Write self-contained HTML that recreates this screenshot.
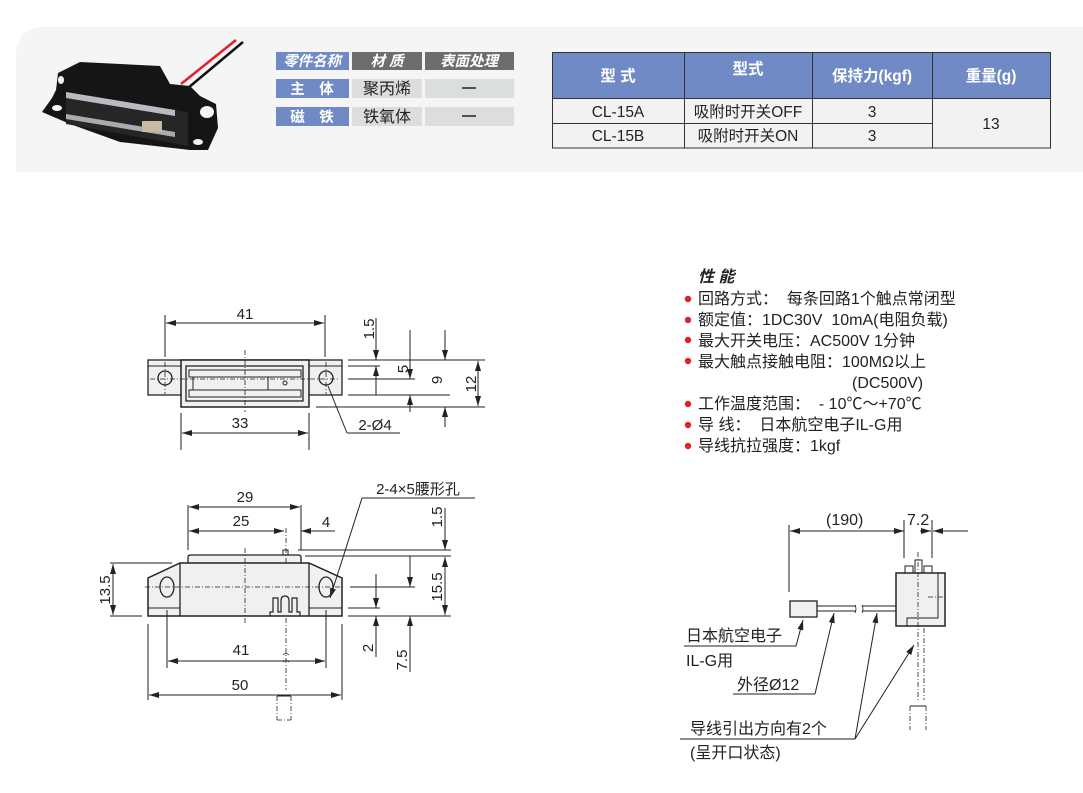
<!DOCTYPE html>
<html><head><meta charset="utf-8"><style>
body{margin:0;background:#fff;}
svg{display:block;font-family:"Liberation Sans","Noto Sans CJK SC",sans-serif;}
</style></head><body>
<svg width="1083" height="793" viewBox="0 0 1083 793" xmlns="http://www.w3.org/2000/svg">
<defs>
<marker id="a" viewBox="0 0 10 6" refX="10" refY="3" markerWidth="10" markerHeight="6" orient="auto-start-reverse" markerUnits="userSpaceOnUse"><path d="M0,0L10,3L0,6z" fill="#222"/></marker>
</defs>
<path d="M16,172 V57 Q16,27 46,27 H1083 V172 Z" fill="#f5f5f5"/>
<!-- photo -->
<g>
<line x1="181" y1="84" x2="236" y2="40" stroke="#e0202e" stroke-width="2.5"/>
<line x1="188" y1="88" x2="243" y2="42" stroke="#111" stroke-width="2.5"/>
<polygon points="58,73 80,62 160,66 170,84 190,86 200,96 216,104 218,128 208,150 190,150 120,142 70,124 42,112 52,98 56,90" fill="#151515"/>
<polygon points="66,92 188,112 188,146 66,124" fill="#262626"/>
<polygon points="66,92 175,110 175,116 66,98" fill="#b8bcc0"/>
<polygon points="66,114 175,132 175,137 66,119" fill="#a8acb0"/>
<rect x="142" y="121" width="20" height="11" fill="#c9b9a0"/>
<ellipse cx="61" cy="80" rx="3" ry="4" fill="#f5f5f5"/>
<ellipse cx="57" cy="108" rx="5" ry="3" fill="#f5f5f5"/>
<ellipse cx="207" cy="112" rx="7" ry="6" fill="#f5f5f5"/>
<ellipse cx="198" cy="142" rx="5" ry="3" fill="#f5f5f5"/>
</g>
<!-- left table -->
<g font-size="14.5" text-anchor="middle">
<rect x="276" y="52" width="73" height="18" fill="#6f8ac4"/><text x="312" y="66" fill="#fff" font-weight="bold" font-style="italic">零件名称</text>
<rect x="352" y="52" width="70" height="18" fill="#6d6d6d"/><text x="387" y="66" fill="#fff" font-weight="bold" font-style="italic">材 质</text>
<rect x="425" y="52" width="89" height="18" fill="#6d6d6d"/><text x="469" y="66" fill="#fff" font-weight="bold" font-style="italic">表面处理</text>
<rect x="276" y="79" width="73" height="19" fill="#6f8ac4"/><text x="312" y="94" fill="#fff" font-weight="bold">主　体</text>
<rect x="352" y="79" width="70" height="19" fill="#dcdddd"/><text x="387" y="94" fill="#222" font-size="16">聚丙烯</text>
<rect x="425" y="79" width="89" height="19" fill="#dcdddd"/><line x1="462" y1="88" x2="476" y2="88" stroke="#222" stroke-width="1.5"/>
<rect x="276" y="107" width="73" height="19" fill="#6f8ac4"/><text x="312" y="122" fill="#fff" font-weight="bold">磁　铁</text>
<rect x="352" y="107" width="70" height="19" fill="#dcdddd"/><text x="387" y="122" fill="#222" font-size="16">铁氧体</text>
<rect x="425" y="107" width="89" height="19" fill="#dcdddd"/><line x1="462" y1="116" x2="476" y2="116" stroke="#222" stroke-width="1.5"/>
</g>
<!-- right table -->
<g font-size="15.5" text-anchor="middle">
<rect x="552" y="52" width="499" height="46" fill="#6f8ac4"/>
<rect x="552" y="98" width="499" height="50" fill="#f2f2f2"/>
<g stroke="#333" stroke-width="1" fill="none">
<rect x="552.5" y="52.5" width="498" height="95.5"/>
<line x1="552" y1="98.5" x2="1051" y2="98.5"/>
<line x1="552" y1="123.5" x2="932" y2="123.5"/>
<line x1="684.5" y1="52" x2="684.5" y2="148"/>
<line x1="812.5" y1="52" x2="812.5" y2="148"/>
<line x1="932.5" y1="52" x2="932.5" y2="148"/>
</g>
<text x="618" y="81" fill="#fff" font-weight="bold">型 式</text>
<text x="748" y="74" fill="#fff" font-weight="bold">型式</text>
<text x="872" y="81" fill="#fff" font-weight="bold">保持力(kgf)</text>
<text x="991" y="81" fill="#fff" font-weight="bold">重量(g)</text>
<text x="618" y="117" fill="#222">CL-15A</text>
<text x="748" y="117" fill="#222">吸附时开关OFF</text>
<text x="872" y="117" fill="#222">3</text>
<text x="618" y="141" fill="#222">CL-15B</text>
<text x="748" y="141" fill="#222">吸附时开关ON</text>
<text x="872" y="141" fill="#222">3</text>
<text x="991" y="129" fill="#222">13</text>
</g>

<!-- top view drawing -->
<g stroke="#222" fill="none" stroke-width="1">
<rect x="148" y="360" width="194" height="35" fill="#f0f0f0" stroke-width="1.3"/>
<line x1="148" y1="366" x2="181" y2="366"/><line x1="309" y1="366" x2="342" y2="366"/>
<rect x="181" y="360" width="128" height="47" fill="#f0f0f0" stroke-width="1.5"/>
<rect x="186" y="366" width="117" height="35" stroke-width="1.3"/>
<rect x="189" y="370" width="112" height="7"/>
<rect x="189" y="390" width="112" height="7"/>
<line x1="193" y1="377" x2="193" y2="390"/><line x1="268" y1="377" x2="268" y2="390"/>
<circle cx="285" cy="383" r="2"/>
<circle cx="165" cy="378" r="7" stroke-width="1.3"/><circle cx="326" cy="378" r="7" stroke-width="1.3"/>
<g stroke-dasharray="5,2,1,2" stroke-width="0.8">
<line x1="245" y1="350" x2="245" y2="412"/><line x1="150" y1="379" x2="340" y2="379"/>
<line x1="165" y1="362" x2="165" y2="394"/><line x1="326" y1="362" x2="326" y2="394"/>
</g>
<line x1="165" y1="315" x2="165" y2="357"/><line x1="325" y1="315" x2="325" y2="357"/>
<line x1="166" y1="323" x2="324" y2="323" marker-start="url(#a)" marker-end="url(#a)"/>
<line x1="181" y1="413" x2="181" y2="450"/><line x1="309" y1="413" x2="309" y2="450"/>
<line x1="182" y1="433" x2="308" y2="433" marker-start="url(#a)" marker-end="url(#a)"/>
<line x1="328" y1="386" x2="347" y2="433"/><line x1="347" y1="433" x2="400" y2="433"/>
<line x1="348" y1="360" x2="485" y2="360"/><line x1="348" y1="366" x2="380" y2="366"/>
<line x1="348" y1="379" x2="415" y2="379"/><line x1="348" y1="395" x2="450" y2="395"/>
<line x1="316" y1="407" x2="485" y2="407"/>
<line x1="376" y1="318" x2="376" y2="360" marker-end="url(#a)"/>
<line x1="376" y1="366" x2="376" y2="395" marker-start="url(#a)"/>
<line x1="410" y1="330" x2="410" y2="379" marker-end="url(#a)"/>
<line x1="410" y1="395" x2="410" y2="412" marker-start="url(#a)"/>
<line x1="445" y1="330" x2="445" y2="360" marker-end="url(#a)"/>
<line x1="445" y1="407" x2="445" y2="427" marker-start="url(#a)"/>
<line x1="478" y1="361" x2="478" y2="406" marker-start="url(#a)" marker-end="url(#a)"/>
</g>
<g font-size="15" fill="#222" text-anchor="middle">
<text x="245" y="319">41</text><text x="240" y="428">33</text>
<text x="375" y="430">2-Ø4</text>
<text transform="translate(374,329) rotate(-90)">1.5</text>
<text transform="translate(408,369) rotate(-90)">5</text>
<text transform="translate(442,380) rotate(-90)">9</text>
<text transform="translate(476,384) rotate(-90)">12</text>
</g>

<!-- front view drawing -->
<g stroke="#222" fill="none" stroke-width="1">
<path d="M188,563 V557 Q188,555 191,555 H298 Q301,555 301,557 V563" fill="#f0f0f0" stroke-width="1.3"/>
<rect x="283" y="550" width="5" height="5"/>
<polygon points="148,616 148,578 180,563 309,563 342,578 342,616" fill="#f0f0f0" stroke-width="1.5"/>
<line x1="180" y1="563" x2="180" y2="616" stroke-width="1.3"/><line x1="309" y1="563" x2="309" y2="616" stroke-width="1.3"/>
<line x1="148" y1="608" x2="180" y2="608"/><line x1="309" y1="608" x2="342" y2="608"/>
<ellipse cx="167" cy="587" rx="7" ry="10" stroke-width="1.3"/><ellipse cx="326" cy="587" rx="7" ry="10" stroke-width="1.3"/>
<path d="M270,616 V612 H273 V598 H278 V612 H281 V601 Q281,596 285,596 Q289,596 289,601 V612 H292 V598 H297 V612 H300 V616" stroke-width="1.2"/>
<g stroke-dasharray="5,2,1,2" stroke-width="0.8">
<line x1="245" y1="548" x2="245" y2="625"/><line x1="286" y1="528" x2="286" y2="565"/>
<line x1="145" y1="587" x2="345" y2="587"/>
<line x1="286" y1="618" x2="286" y2="690"/>
<line x1="277" y1="696" x2="277" y2="720"/><line x1="291" y1="696" x2="291" y2="720"/><line x1="277" y1="720" x2="291" y2="720"/>
</g>
<line x1="277" y1="696" x2="291" y2="696"/>
<path d="M283,655 q3,-3 6,0 M283,662 q3,-3 6,0" stroke-width="0.8"/>
<line x1="188" y1="505" x2="188" y2="550"/><line x1="301" y1="505" x2="301" y2="550"/>
<line x1="189" y1="507" x2="300" y2="507" marker-start="url(#a)" marker-end="url(#a)"/>
<line x1="189" y1="531" x2="284" y2="531" marker-start="url(#a)" marker-end="url(#a)"/>
<line x1="301" y1="531" x2="335" y2="531" marker-start="url(#a)"/>
<line x1="110" y1="563" x2="172" y2="563"/><line x1="110" y1="616" x2="142" y2="616"/>
<line x1="113" y1="564" x2="113" y2="615" marker-start="url(#a)" marker-end="url(#a)"/>
<line x1="148" y1="624" x2="148" y2="700"/><line x1="342" y1="624" x2="342" y2="700"/>
<line x1="167" y1="610" x2="167" y2="668"/><line x1="326" y1="610" x2="326" y2="668"/>
<line x1="168" y1="661" x2="325" y2="661" marker-start="url(#a)" marker-end="url(#a)"/>
<line x1="149" y1="695" x2="341" y2="695" marker-start="url(#a)" marker-end="url(#a)"/>
<line x1="298" y1="550" x2="451" y2="550"/><line x1="305" y1="556" x2="451" y2="556"/>
<line x1="350" y1="587" x2="415" y2="587"/><line x1="348" y1="608" x2="380" y2="608"/>
<line x1="348" y1="616" x2="451" y2="616"/>
<line x1="445" y1="508" x2="445" y2="550" marker-end="url(#a)"/>
<line x1="445" y1="557" x2="445" y2="615" marker-start="url(#a)" marker-end="url(#a)"/>
<line x1="410" y1="556" x2="410" y2="587" marker-end="url(#a)"/>
<line x1="410" y1="616" x2="410" y2="672" marker-start="url(#a)"/>
<line x1="376" y1="574" x2="376" y2="608" marker-end="url(#a)"/>
<line x1="376" y1="616" x2="376" y2="657" marker-start="url(#a)"/>
<line x1="330" y1="598" x2="362" y2="498" marker-start="url(#a)"/><line x1="362" y1="498" x2="475" y2="498"/>
</g>
<g font-size="15" fill="#222" text-anchor="middle">
<text x="245" y="502">29</text><text x="241" y="526">25</text><text x="326" y="527">4</text>
<text x="418" y="494">2-4×5腰形孔</text>
<text transform="translate(110,590) rotate(-90)">13.5</text>
<text x="241" y="655">41</text><text x="240" y="690">50</text>
<text transform="translate(442,517) rotate(-90)">1.5</text>
<text transform="translate(442,587) rotate(-90)">15.5</text>
<text transform="translate(373,648) rotate(-90)">2</text>
<text transform="translate(407,660) rotate(-90)">7.5</text>
</g>

<!-- spec text -->
<g font-size="16" fill="#222">
<text x="698" y="282" font-weight="bold" font-style="italic">性 能</text>
<g fill="#e0202e"><circle cx="688" cy="299" r="3.2"/><circle cx="688" cy="320" r="3.2"/><circle cx="688" cy="340" r="3.2"/><circle cx="688" cy="361" r="3.2"/><circle cx="688" cy="404" r="3.2"/><circle cx="688" cy="425" r="3.2"/><circle cx="688" cy="446" r="3.2"/></g>
<text x="698" y="304" xml:space="preserve">回路方式：  每条回路1个触点常闭型</text>
<text x="698" y="325" xml:space="preserve">额定值：1DC30V  10mA(电阻负载)</text>
<text x="698" y="346">最大开关电压：AC500V 1分钟</text>
<text x="698" y="367">最大触点接触电阻：100MΩ以上</text>
<text x="852" y="388">(DC500V)</text>
<text x="698" y="409" xml:space="preserve">工作温度范围：  - 10℃～+70℃</text>
<text x="698" y="430" xml:space="preserve">导 线：  日本航空电子IL-G用</text>
<text x="698" y="451">导线抗拉强度：1kgf</text>
</g>

<!-- right drawing -->
<g stroke="#222" fill="none" stroke-width="1">
<line x1="789" y1="525" x2="789" y2="592"/>
<line x1="790" y1="531" x2="904" y2="531" marker-start="url(#a)" marker-end="url(#a)"/>
<line x1="904" y1="520" x2="904" y2="558"/><line x1="932" y1="520" x2="932" y2="558"/>
<line x1="920" y1="531" x2="931" y2="531" marker-end="url(#a)"/>
<line x1="933" y1="531" x2="968" y2="531" marker-start="url(#a)"/>
<rect x="896" y="573" width="49" height="53" fill="#f0f0f0" stroke-width="1.5"/>
<rect x="905" y="566" width="8" height="7"/><rect x="924" y="566" width="8" height="7"/>
<rect x="915" y="560" width="7" height="13"/>
<path d="M938,573 V618 H907 V626" />
<rect x="790" y="601" width="27" height="16" fill="#f0f0f0" stroke-width="1.3"/>
<path d="M817,606 H856 M817,611 H856 M862,606 H896 M862,611 H896"/>
<path d="M855,613 q2,-4 0,-8 M862,613 q2,-4 0,-8" stroke-width="0.8"/>
<g stroke-dasharray="5,2,1,2" stroke-width="0.8">
<line x1="918" y1="552" x2="918" y2="700"/><line x1="924" y1="628" x2="924" y2="700"/>
<line x1="928" y1="597" x2="947" y2="597"/>
<line x1="910" y1="706" x2="910" y2="730"/><line x1="926" y1="706" x2="926" y2="730"/>
</g>
<line x1="910" y1="706" x2="926" y2="706"/>
<line x1="684" y1="646" x2="796" y2="646"/><line x1="796" y1="646" x2="803" y2="620" marker-end="url(#a)"/>
<line x1="733" y1="694" x2="815" y2="694"/><line x1="815" y1="694" x2="834" y2="613" marker-end="url(#a)"/>
<line x1="680" y1="739" x2="855" y2="739"/>
<line x1="855" y1="739" x2="877" y2="613" marker-end="url(#a)"/>
<line x1="855" y1="739" x2="914" y2="645" marker-end="url(#a)"/>
</g>
<g font-size="16" fill="#222">
<text x="826" y="525">(190)</text><text x="907" y="525">7.2</text>
<text x="686" y="641">日本航空电子</text>
<text x="686" y="666">IL-G用</text>
<text x="737" y="690">外径Ø12</text>
<text x="690" y="734">导线引出方向有2个</text>
<text x="690" y="758">(呈开口状态)</text>
</g>
</svg>
</body></html>
